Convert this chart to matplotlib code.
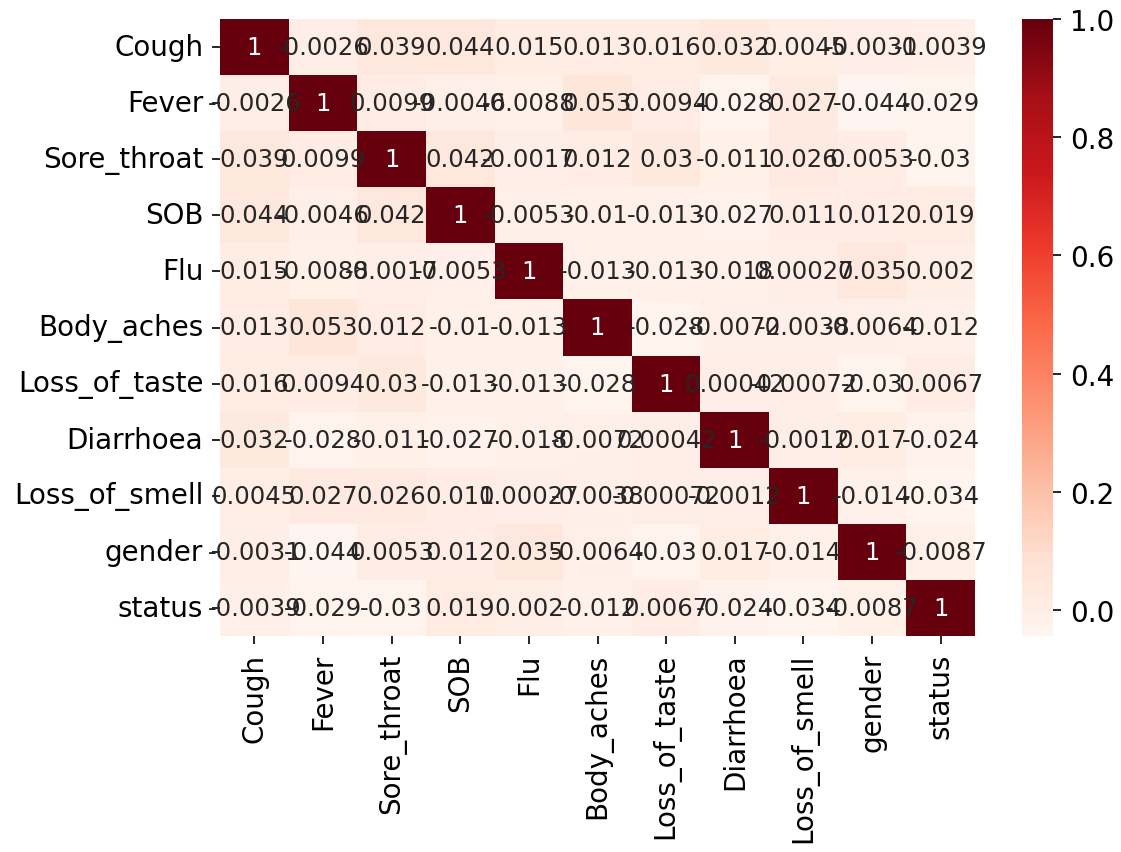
import matplotlib

matplotlib.use("Agg")
import matplotlib.pyplot as plt
import numpy as np
import pandas as pd
import seaborn as sns

features = [
    "Cough", "Fever", "Sore_throat", "SOB", "Flu", "Body_aches",
    "Loss_of_taste", "Diarrhoea", "Loss_of_smell", "gender", "status",
]

# upper triangle of the correlation matrix, one list per row (right of the diagonal)
cough = [-0.0026, 0.039, 0.044, 0.015, 0.013, 0.016, 0.032, 0.0045, -0.0031, -0.0039]
fever = [0.0099, -0.0046, -0.0088, 0.053, 0.0094, -0.028, 0.027, -0.044, -0.029]
sore_throat = [0.042, -0.0017, 0.012, 0.03, -0.011, 0.026, 0.0053, -0.03]
sob = [-0.0053, -0.01, -0.013, -0.027, 0.011, 0.012, 0.019]
flu = [-0.013, -0.013, -0.018, 0.00027, 0.035, 0.002]
body_aches = [-0.028, -0.0072, -0.0038, -0.0064, -0.012]
loss_of_taste = [0.00042, -0.00072, -0.03, 0.0067]
diarrhoea = [-0.0012, 0.017, -0.024]
loss_of_smell = [-0.014, -0.034]
gender = [-0.0087]

upper_rows = [cough, fever, sore_throat, sob, flu, body_aches,
              loss_of_taste, diarrhoea, loss_of_smell, gender]

n = len(features)
corr = np.eye(n)
for i, row in enumerate(upper_rows):
    for k, val in enumerate(row):
        j = i + 1 + k
        corr[i, j] = val
        corr[j, i] = val
corr_df = pd.DataFrame(corr, index=features, columns=features)

W, H = 1121, 853
fig = plt.figure(figsize=(W / 100, H / 100), dpi=100)
ax = fig.add_axes([220 / W, 1 - 637 / H, 755 / W, 617 / H])
cax = fig.add_axes([1022 / W, 1 - 637 / H, 31 / W, 617 / H])

sns.heatmap(corr_df, annot=True, cmap="Reds", ax=ax, cbar_ax=cax,
            annot_kws={"size": 17.5})

ax.tick_params(labelsize=20, length=6, width=1.2, pad=6)
plt.setp(ax.get_yticklabels(), rotation=0)
plt.setp(ax.get_xticklabels(), rotation=90)
cax.tick_params(labelsize=20, length=6, width=1.2, pad=6)
cax.set_yticks([0.0, 0.2, 0.4, 0.6, 0.8, 1.0])

fig.savefig("out.png", dpi=100)
